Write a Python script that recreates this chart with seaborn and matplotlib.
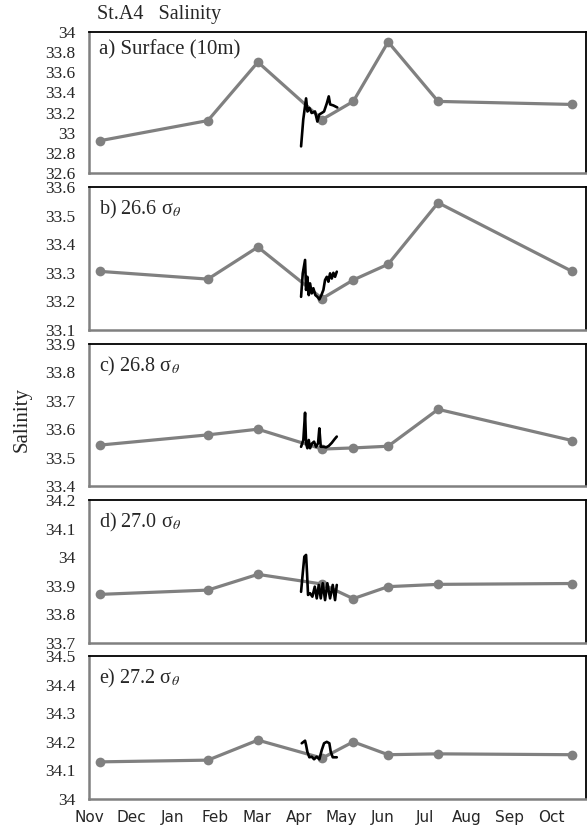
import pandas as pd
import matplotlib
matplotlib.use('Agg')
import matplotlib.pyplot as plt
import seaborn as sns

# Month axis: 0 = start of Nov, 1 = Dec, ... 11 = Oct
months = ['Nov', 'Dec', 'Jan', 'Feb', 'Mar', 'Apr', 'May', 'Jun', 'Jul', 'Aug', 'Sep', 'Oct']

# Ship survey points (gray)
cruise_x = [0.26, 2.83, 4.02, 5.55, 6.29, 7.12, 8.31, 11.5]
surf_sal = [32.92, 33.12, 33.70, 33.13, 33.31, 33.90, 33.31, 33.28]
s266_sal = [33.305, 33.278, 33.39, 33.21, 33.275, 33.33, 33.545, 33.305]
s268_sal = [33.544, 33.58, 33.60, 33.53, 33.534, 33.54, 33.67, 33.56]
s270_sal = [33.87, 33.885, 33.94, 33.906, 33.855, 33.897, 33.905, 33.908]
s272_sal = [34.13, 34.136, 34.206, 34.143, 34.20, 34.155, 34.158, 34.155]

# Mooring records in April (black)
surf_moor_x = [5.048, 5.10, 5.167, 5.20, 5.245, 5.30, 5.38, 5.436, 5.48, 5.54,
               5.595, 5.66, 5.707, 5.74, 5.817, 5.91]
surf_moor = [32.864, 33.13, 33.34, 33.21, 33.245, 33.195, 33.21, 33.11, 33.18, 33.195,
             33.21, 33.29, 33.36, 33.28, 33.27, 33.25]

s266_moor_x = [5.048, 5.088, 5.143, 5.167, 5.198, 5.231, 5.262, 5.302, 5.34, 5.388, 5.436,
               5.483, 5.531, 5.579, 5.619, 5.66, 5.698, 5.738, 5.779, 5.817, 5.857, 5.898]
s266_moor = [33.216, 33.298, 33.345, 33.24, 33.286, 33.222, 33.263, 33.228, 33.246, 33.222, 33.216,
             33.207, 33.222, 33.24, 33.275, 33.286, 33.269, 33.298, 33.28, 33.30, 33.286, 33.304]

s268_moor_x = [5.048, 5.102, 5.143, 5.167, 5.198, 5.231, 5.262, 5.31, 5.357, 5.405,
               5.452, 5.483, 5.517, 5.579, 5.643, 5.707, 5.779, 5.841, 5.898]
s268_moor = [33.538, 33.562, 33.658, 33.55, 33.533, 33.562, 33.533, 33.55, 33.556, 33.538,
             33.55, 33.603, 33.538, 33.538, 33.536, 33.541, 33.552, 33.564, 33.574]

s270_moor_x = [5.048, 5.088, 5.126, 5.167, 5.19, 5.214, 5.262, 5.317, 5.374, 5.421,
               5.469, 5.517, 5.564, 5.619, 5.674, 5.738, 5.802, 5.857, 5.898]
s270_moor = [33.879, 33.944, 34.002, 34.008, 33.944, 33.868, 33.874, 33.862, 33.897, 33.856,
             33.903, 33.856, 33.909, 33.85, 33.909, 33.856, 33.903, 33.85, 33.903]

s272_moor_x = [5.064, 5.143, 5.167, 5.198, 5.245, 5.302, 5.357, 5.421, 5.483, 5.54,
               5.595, 5.66, 5.721, 5.755, 5.802, 5.898]
s272_moor = [34.195, 34.204, 34.189, 34.165, 34.146, 34.148, 34.139, 34.148, 34.139, 34.171,
             34.195, 34.20, 34.195, 34.165, 34.146, 34.146]

panel_labels = ['a) Surface (10m)', r'b) 26.6 σ$_{\theta}$', r'c) 26.8 σ$_{\theta}$',
                r'd) 27.0 σ$_{\theta}$', r'e) 27.2 σ$_{\theta}$']
y_ticks = [
    [32.6, 32.8, 33.0, 33.2, 33.4, 33.6, 33.8, 34.0],
    [33.1, 33.2, 33.3, 33.4, 33.5, 33.6],
    [33.4, 33.5, 33.6, 33.7, 33.8, 33.9],
    [33.7, 33.8, 33.9, 34.0, 34.1, 34.2],
    [34.0, 34.1, 34.2, 34.3, 34.4, 34.5],
]

sns.set_style('white')
plt.rcParams['font.family'] = ['Liberation Serif', 'DejaVu Serif']
plt.rcParams['mathtext.fontset'] = 'stix'

cruise_series = [surf_sal, s266_sal, s268_sal, s270_sal, s272_sal]
moor_series = [(surf_moor_x, surf_moor), (s266_moor_x, s266_moor), (s268_moor_x, s268_moor),
               (s270_moor_x, s270_moor), (s272_moor_x, s272_moor)]

fig = plt.figure(figsize=(5.87, 8.30), dpi=100)

# axes boxes (left, bottom, width, height) in figure fraction
bottoms = [0.7916, 0.6024, 0.4145, 0.2253, 0.0373]
heights = [0.1700, 0.1723, 0.1710, 0.1723, 0.1723]
gray = '#808080'

for i in range(5):
    ax = fig.add_axes([0.1516, bottoms[i], 0.8467, heights[i]])
    df = pd.DataFrame({'month': cruise_x, 'sal': cruise_series[i]})
    sns.lineplot(x='month', y='sal', data=df, ax=ax, color=gray, lw=2.3,
                 marker='o', markersize=7, markeredgewidth=0, zorder=2)
    mx, my = moor_series[i]
    mdf = pd.DataFrame({'month': mx, 'sal': my})
    sns.lineplot(x='month', y='sal', data=mdf, ax=ax, color='black', lw=1.9,
                 sort=False, zorder=3)

    ax.set_xlim(0, 11.83)
    ax.set_ylim(y_ticks[i][0], y_ticks[i][-1])
    ax.set_yticks(y_ticks[i])
    ax.set_yticklabels([('%g' % v) for v in y_ticks[i]], fontsize=12.5)
    ax.set_xticks(range(12))
    if i == 4:
        ax.set_xticklabels(months, fontsize=11, family=['DejaVu Sans'])
    else:
        ax.set_xticklabels([])
    ax.set_xlabel('')
    ax.set_ylabel('')

    for side in ['left', 'bottom']:
        ax.spines[side].set_color(gray)
        ax.spines[side].set_linewidth(1.8)
    for side in ['top', 'right']:
        ax.spines[side].set_color('black')
        ax.spines[side].set_linewidth(1.3)
    ax.tick_params(axis='both', direction='out', length=4, width=1.2, color=gray)
    ax.tick_params(axis='y', pad=6)
    ax.tick_params(axis='x', pad=4)

    ytxt = 0.87 if i == 0 else 0.84
    ax.text(0.02, ytxt, panel_labels[i], transform=ax.transAxes, fontsize=15 if i == 0 else 14.5,
            va='center', ha='left')

fig.text(0.165, 0.982, 'St.A4   Salinity', fontsize=14.5, va='center', ha='left')
fig.text(0.038, 0.494, 'Salinity', fontsize=15, rotation=90, va='center', ha='center')

plt.savefig('out.png', dpi=100)
